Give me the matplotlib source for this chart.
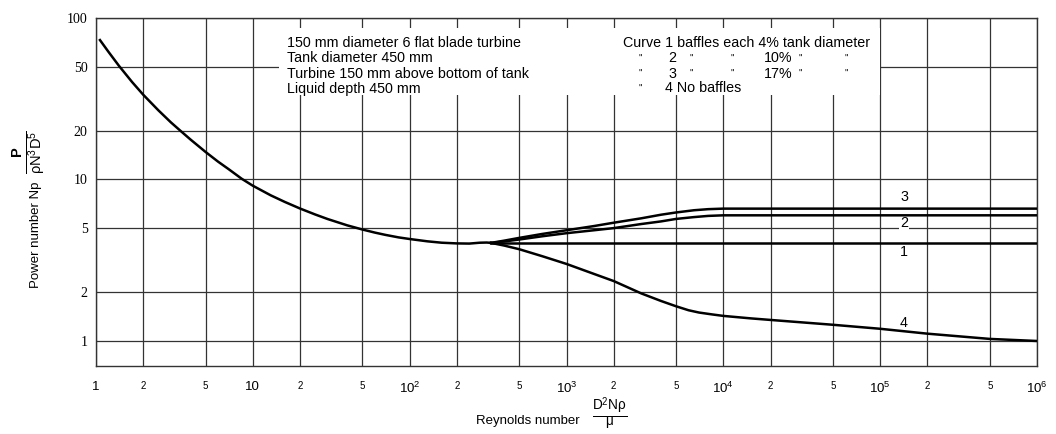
import numpy as np
import matplotlib.pyplot as plt
from matplotlib.patches import Rectangle

plt.rcParams['font.family'] = ['Liberation Sans', 'DejaVu Sans']
plt.rcParams['mathtext.fontset'] = 'custom'
plt.rcParams['mathtext.rm'] = 'Liberation Sans'
plt.rcParams['mathtext.it'] = 'Liberation Sans'
plt.rcParams['mathtext.bf'] = 'Liberation Sans:bold'

# main curve (laminar + transition, common to all)
re_main = [1.06, 1.2, 1.4, 1.7, 2, 2.5, 3, 3.4, 4, 5, 6, 7, 8.5, 10, 13, 16, 20, 25, 30, 40,
           50, 60, 70, 85, 100, 130, 160, 200, 240, 280, 310, 330]
np_main = [73, 61.8, 50.6, 40.1, 33.5, 26.8, 22.6, 20.3, 17.7, 14.8, 12.9, 11.6, 10.1, 9.15,
           7.98, 7.26, 6.61, 6.07, 5.69, 5.2, 4.9, 4.69, 4.54, 4.38, 4.28, 4.14, 4.06, 4.02,
           4.01, 4.06, 4.07, 4.05]

# curve 1: baffles 4%
re_c1 = [330, 1e6]
np_c1 = [4.05, 4.05]

# curve 2: baffles 10%
re_c2 = [330, 400, 500, 700, 1000, 1500, 2000, 3000, 4000, 5000, 6500, 8000, 10000, 1e6]
np_c2 = [4.05, 4.13, 4.25, 4.45, 4.65, 4.85, 5.0, 5.3, 5.5, 5.7, 5.85, 5.95, 6.0, 6.0]

# curve 3: baffles 17%
re_c3 = [330, 400, 500, 700, 1000, 1500, 2000, 3000, 4000, 5000, 6500, 8000, 10000, 1e6]
np_c3 = [4.05, 4.18, 4.35, 4.6, 4.85, 5.15, 5.4, 5.75, 6.05, 6.25, 6.45, 6.55, 6.6, 6.6]

# curve 4: no baffles
re_c4 = [330, 400, 500, 700, 1000, 1500, 2000, 3000, 4000, 5000, 6000, 7000, 8500, 10000,
         15000, 20000, 50000, 1e5, 2e5, 5e5, 1e6]
np_c4 = [4.05, 3.9, 3.7, 3.35, 3.0, 2.6, 2.35, 1.97, 1.77, 1.64, 1.55, 1.5, 1.46, 1.43,
         1.38, 1.35, 1.26, 1.19, 1.11, 1.03, 1.0]

W, H = 1056, 434
fig = plt.figure(figsize=(W / 100, H / 100), dpi=100)
ax = fig.add_axes([96 / W, 1 - 366 / H, (1037 - 96) / W, (366 - 18) / H])


def px(x, y):
    return x / W, 1 - y / H


lw = 1.8
for xs, ys in [(re_main, np_main), (re_c1, np_c1), (re_c2, np_c2), (re_c3, np_c3), (re_c4, np_c4)]:
    ax.plot(xs, ys, color='black', lw=lw, zorder=3, solid_joinstyle='round')

ax.set_xscale('log')
ax.set_yscale('log')
ax.set_xlim(1, 1e6)
ax.set_ylim(0.7, 100)

# grid
xmaj = [10.0 ** k for k in range(7)]
xmin = [m * 10.0 ** k for k in range(6) for m in (2, 5)]
ax.set_xticks(xmaj)
ax.set_xticklabels(['1', '10', r'$10^2$', r'$10^3$', r'$10^4$', r'$10^5$', r'$10^6$'], fontsize=9.5)
ax.set_xticks(xmin, minor=True)
ax.set_xticklabels(['2' if str(int(v))[0] == '2' else '5' for v in xmin], minor=True, fontsize=7)
yt = [1, 2, 5, 10, 20, 50, 100]
ax.set_yticks(yt)
ax.set_yticklabels([str(v) for v in yt], fontsize=10, family='Liberation Serif')
ax.yaxis.set_minor_locator(plt.NullLocator())
ax.tick_params(axis='both', which='both', length=0)
ax.tick_params(axis='x', which='both', pad=11)
ax.tick_params(axis='y', pad=6)
ax.set_axisbelow(True)
ax.grid(True, which='both', axis='x', color='#333333', lw=0.9)
ax.grid(True, which='major', axis='y', color='#333333', lw=0.9)
for s in ax.spines.values():
    s.set_color('#333333')
    s.set_linewidth(1.0)

# white box behind the notes
ax.add_patch(Rectangle(((279 - 96) / 941, (366 - 95) / 348), (880 - 279) / 941, (95 - 28) / 348,
                       transform=ax.transAxes, facecolor='white', edgecolor='none', zorder=1))

fs = 10.3
notes = ['150 mm diameter 6 flat blade turbine', 'Tank diameter 450 mm',
         'Turbine 150 mm above bottom of tank', 'Liquid depth 450 mm']
for t, y in zip(notes, [43, 58.5, 73.5, 88.5]):
    fig.text(*px(287, y), t, fontsize=fs, va='center', ha='left')

fig.text(*px(623, 43), 'Curve 1 baffles each 4% tank diameter', fontsize=fs, va='center', ha='left')
dfs = 7
for y, n, pct in [(58.5, '2', '10%'), (73.5, '3', '17%')]:
    fig.text(*px(640, y), '"', fontsize=dfs, va='center', ha='center')
    fig.text(*px(668, y), n, fontsize=fs, va='center', ha='left')
    fig.text(*px(691, y), '"', fontsize=dfs, va='center', ha='center')
    fig.text(*px(732, y), '"', fontsize=dfs, va='center', ha='center')
    fig.text(*px(764, y), pct, fontsize=fs, va='center', ha='left')
    fig.text(*px(800, y), '"', fontsize=dfs, va='center', ha='center')
    fig.text(*px(846, y), '"', fontsize=dfs, va='center', ha='center')
fig.text(*px(640, 88.5), '"', fontsize=dfs, va='center', ha='center')
fig.text(*px(665, 88.5), '4 No baffles', fontsize=fs, va='center', ha='left')

# curve labels (drawn under the curves so the white patch only breaks the grid)
for t, y in [('3', 197), ('2', 223), ('1', 252), ('4', 323)]:
    ax.text(*px(904, y), t, fontsize=fs, va='center', ha='center', transform=fig.transFigure,
            zorder=2, bbox=dict(facecolor='white', edgecolor='none', pad=1.0) if t == '2' else None)

# axis labels
fig.text(*px(36, 235), 'Power number Np', rotation=90, fontsize=9.5, va='center', ha='center')
fig.text(*px(30, 152), r'$\frac{\mathbf{P}}{\mathrm{\rho N^3D^5}}$', rotation=90, fontsize=15,
         va='center', ha='center')
fig.text(*px(528, 421), 'Reynolds number', fontsize=9.5, va='center', ha='center')
fig.text(*px(610, 414), r'$\frac{\mathrm{D^2N\rho}}{\mathrm{\mu}}$', fontsize=14, va='center', ha='center')

fig.savefig('out.png', dpi=100, facecolor='white')
